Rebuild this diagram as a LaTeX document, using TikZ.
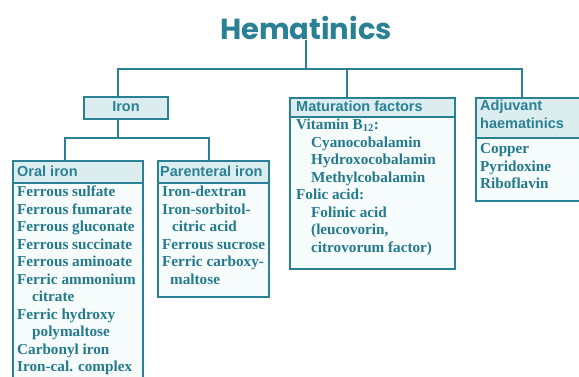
\documentclass[tikz,border=0pt]{standalone}
\usepackage{fontspec}
\setmainfont{Liberation Serif}
\setsansfont{Liberation Sans}
\newfontfamily\titlefont{Poppins}
\definecolor{teal1}{HTML}{2A8094}
\definecolor{tealtxt}{HTML}{237A8C}
\definecolor{hfill}{HTML}{DCEDF0}
\definecolor{bfill}{HTML}{F6FBFC}
\begin{document}
\begin{tikzpicture}[x=1pt,y=-1pt,
  conn/.style={draw=teal1,line width=2.6pt},
  boxframe/.style={draw=teal1,fill=bfill,line width=2.2pt,anchor=north west,inner sep=0pt},
  headframe/.style={draw=teal1,fill=hfill,line width=2.2pt,anchor=north west,inner sep=0pt},
  headtxt/.style={inner sep=0pt,align=left,text=teal1,font=\sffamily\bfseries\fontsize{14.5}{18}\selectfont},
  bodytxt/.style={anchor=north west,inner sep=0pt,align=left,text=tealtxt,font=\bfseries\fontsize{15.2}{17.5}\selectfont}]
\useasboundingbox[fill=white] (0,0) rectangle (579,377);

% title
\node[text=teal1,font=\titlefont\bfseries\fontsize{29}{34}\selectfont,inner sep=0pt] (title) at (306,28) {Hematinics};

% boxes
\node[headframe,minimum width=84pt,minimum height=22pt] (iron) at (83,96) {};
\node[headtxt,anchor=center] (irontxt) at (126,107) {Iron};

\node[boxframe,minimum width=130pt,minimum height=240pt] (oral) at (12,160) {};
\node[headframe,minimum width=130pt,minimum height=22pt] (oralh) at (12,160) {};
\node[headtxt,anchor=west] (oraltxt) at (17,171) {Oral iron};

\node[boxframe,minimum width=111pt,minimum height=136pt] (par) at (157,160) {};
\node[headframe,minimum width=111pt,minimum height=22pt] (parh) at (157,160) {};
\node[headtxt,anchor=west] (partxt) at (160,171) {Parenteral iron};

\node[boxframe,minimum width=165pt,minimum height=171pt] (mat) at (289,97) {};
\node[headframe,minimum width=165pt,minimum height=19pt] (math) at (289,97) {};
\node[headtxt,anchor=west] (mattxt) at (296,106.5) {Maturation factors};

\node[boxframe,minimum width=115pt,minimum height=103pt] (adj) at (475,97) {};
\node[headframe,minimum width=115pt,minimum height=40pt] (adjh) at (475,97) {};
\node[headtxt,anchor=north west] (adjtxt) at (480,100) {Adjuvant\\haematinics};

% body texts
\node[bodytxt] (oralb) at (17,186) {Ferrous sulfate\\Ferrous fumarate\\Ferrous gluconate\\Ferrous succinate\\Ferrous aminoate\\Ferric ammonium\\\hspace*{15pt}citrate\\Ferric hydroxy\\\hspace*{15pt}polymaltose\\Carbonyl iron\\Iron-cal. complex};
\node[bodytxt] (parb) at (162,186) {Iron-dextran\\Iron-sorbitol-\\\hspace*{10pt}citric acid\\Ferrous sucrose\\Ferric carboxy-\\\hspace*{8pt}maltose};
\node[bodytxt] (matb) at (296,119) {Vitamin B\textsubscript{12}:\\\hspace*{15pt}Cyanocobalamin\\\hspace*{15pt}Hydroxocobalamin\\\hspace*{15pt}Methylcobalamin\\Folic acid:\\\hspace*{15pt}Folinic acid\\\hspace*{15pt}(leucovorin,\\\hspace*{15pt}citrovorum factor)};
\node[bodytxt] (adjb) at (480,143.5) {Copper\\Pyridoxine\\Riboflavin};

% connectors
\coordinate (busL) at (118,69);
\coordinate (busM) at (347,69);
\coordinate (busR) at (522,69);
\coordinate (subL) at (65,138);
\coordinate (subM) at (118,138);
\coordinate (subR) at (209,138);
\draw[conn] (title.south) -- (title.south |- busL);
\draw[conn,line cap=rect] (busL |- iron.north) -- (busL) -- (busR) -- (busR |- adj.north);
\draw[conn] (busM) -- (busM |- mat.north);
\draw[conn] (subM |- iron.south) -- (subM);
\draw[conn,line cap=rect] (subL |- oral.north) -- (subL) -- (subR) -- (subR |- par.north);
\end{tikzpicture}
\end{document}
